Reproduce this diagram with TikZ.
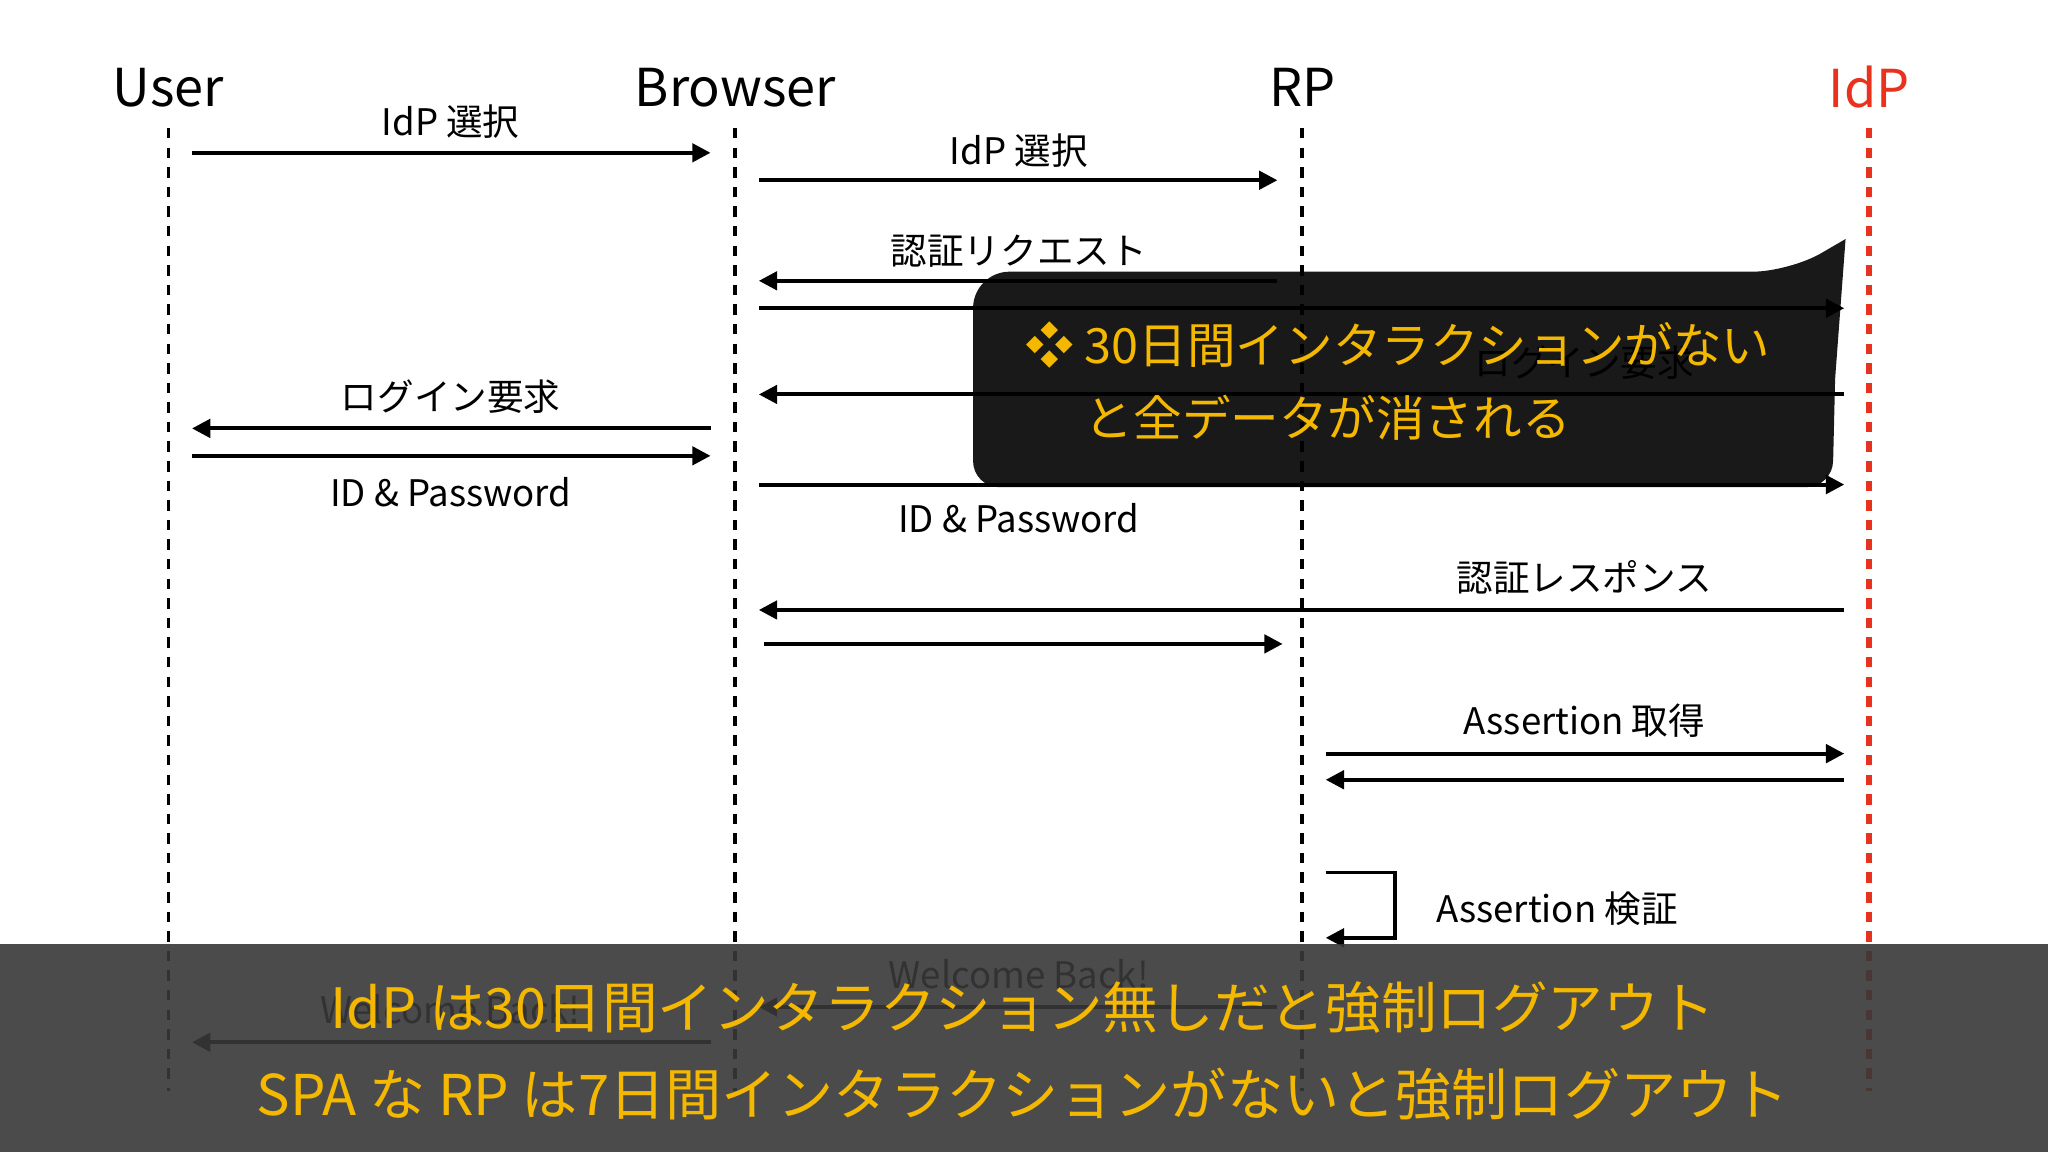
\documentclass[tikz,border=0pt]{standalone}
\usepackage{fontspec}
\setmainfont{Noto Sans CJK JP}
\usetikzlibrary{arrows.meta}
\definecolor{yel}{HTML}{F5B800}
\definecolor{idp}{HTML}{E8321E}
\newcommand\msgline[4]{\coordinate (s#4) at (#1,#3); \coordinate (e#4) at (#2,#3); \draw[msg] (s#4) -- (e#4);}
\begin{document}
\begin{tikzpicture}[x=0.5pt,y=-0.5pt,
  head/.style={font=\fontsize{20}{24}\selectfont},
  lbl/.style={font=\fontsize{14}{17}\selectfont},
  life/.style={line width=1.5pt,dash pattern=on 4pt off 3.5pt},
  msg/.style={line width=1.5pt,-{Triangle[length=7pt,width=7pt]}},
  ytxt/.style={text=yel,align=left}]
\useasboundingbox (0,0) rectangle (1568,882);
\fill[white] (0,0) rectangle (1568,882);
% heads
\node[head] (user) at (129,67) {User};
\node[head] (browser) at (563,67) {Browser};
\node[head] (rp) at (997,67) {RP};
\node[head,text=idp] (idp) at (1431,67) {IdP};
\coordinate (u0) at (129,98); \coordinate (u1) at (129,835);
\coordinate (b0) at (563,98); \coordinate (b1) at (563,835);
\coordinate (r0) at (997,98); \coordinate (r1) at (997,835);
\coordinate (i0) at (1431,98); \coordinate (i1) at (1431,835);
\draw[life] (u0) -- (u1);
\draw[life] (b0) -- (b1);
\draw[life] (r0) -- (r1);
\draw[life,idp,line width=2pt] (i0) -- (i1);
% messages
\msgline{147}{544}{117}{1}
\node[lbl] (l1) at (345,93) {IdP 選択};
\msgline{581}{978}{138}{2}
\node[lbl] (l2) at (780,115) {IdP 選択};
\msgline{978}{581}{215}{3}
\node[lbl] (l3) at (780,192) {認証リクエスト};
\msgline{581}{1412}{236}{4}
\msgline{1412}{581}{302}{5}
\node[lbl] (l5) at (1213,278) {ログイン要求};
\msgline{544}{147}{328}{6}
\node[lbl] (l6) at (345,304) {ログイン要求};
\msgline{147}{544}{349}{7}
\node[lbl] (l7) at (345,377) {ID \& Password};
\msgline{581}{1412}{371}{8}
\node[lbl] (l8) at (780,397) {ID \& Password};
\msgline{1412}{581}{467}{9}
\node[lbl] (l9) at (1213,442) {認証レスポンス};
\msgline{585}{982}{493}{10}
\msgline{1015}{1412}{577}{11}
\node[lbl] (l11) at (1213,552) {Assertion 取得};
\msgline{1412}{1015}{597}{12}
\coordinate (a0) at (1015,668); \coordinate (a1) at (1068,668);
\coordinate (a2) at (1068,718); \coordinate (a3) at (1015,718);
\draw[msg] (a0) -- (a1) -- (a2) -- (a3);
\node[lbl] (l13) at (1192,696) {Assertion 検証};
\msgline{978}{581}{771}{14}
\node[lbl] (l14) at (780,746) {Welcome Back!};
\msgline{544}{147}{798}{15}
\node[lbl] (l15) at (345,773) {Welcome Back!};
% callout
\fill[black,opacity=0.9]
  [rounded corners=14pt] (745,373) -- (745,208) -- (1370,208)
  [sharp corners] -- (1413,183) -- (1405,290)
  [rounded corners=10pt] -- (1403,373) -- cycle;
\node[ytxt,anchor=west,font=\fontsize{18.6}{28}\selectfont] (c1) at (778,292)
  {❖ 30日間インタラクションがない\\\hphantom{❖ }と全データが消される};
% banner
\fill[black!78,opacity=0.9] (0,723) rectangle (1568,882);
\node[text=yel,font=\fontsize{21.3}{26}\selectfont] (t1) at (783,771) {IdP は30日間インタラクション無しだと強制ログアウト};
\node[text=yel,font=\fontsize{21.5}{26}\selectfont] (t2) at (783,838) {SPA な RP は7日間インタラクションがないと強制ログアウト};
\end{tikzpicture}
\end{document}
